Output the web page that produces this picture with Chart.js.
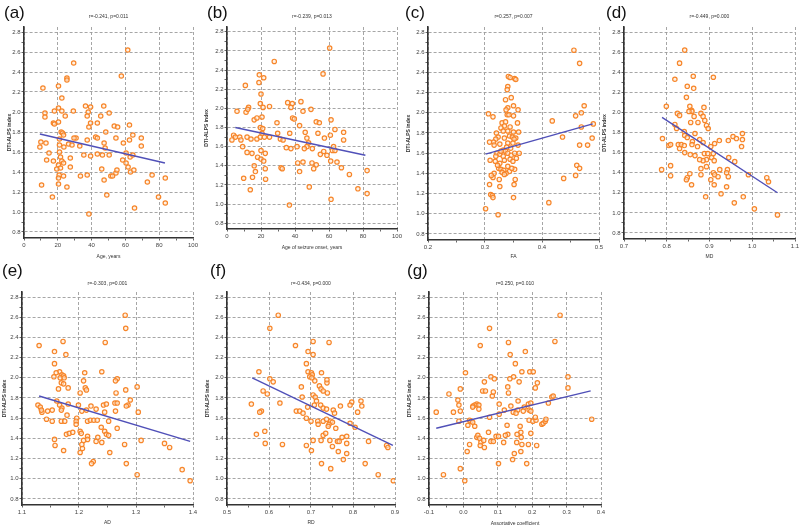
<!DOCTYPE html>
<html><head><meta charset="utf-8">
<script src="https://cdn.jsdelivr.net/npm/chart.js@4.4.1/dist/chart.umd.min.js"></script>
<style>
html,body{margin:0;padding:0;background:#fff;}
body{width:800px;height:528px;position:relative;overflow:hidden;font-family:"Liberation Sans",Arial,sans-serif;}
canvas{position:absolute;}
.plabel{position:absolute;font-size:17px;line-height:17px;color:#111;}
.stat{position:absolute;font-size:5px;line-height:6px;color:#333;white-space:nowrap;transform:translateX(-50%);}
</style></head><body>
<script>
// ---------- DATA ----------
const panelLabels = ['(a)','(b)','(c)','(d)','(e)','(f)','(g)'];
const statTitles = ['r=-0.241, p=0.011','r=-0.239, p=0.013','r=0.257, p=0.007','r=-0.449, p=0.000','r=-0.303, p=0.001','r=-0.434, p=0.000','r=0.250, p=0.010'];
const xTitles = ['Age, years','Age of seizure onset, years','FA','MD','AD','RD','Assortative coefficient'];
const yTitle = 'DTI-ALPS index';
const yTicks = [0.8,1.0,1.2,1.4,1.6,1.8,2.0,2.2,2.4,2.6,2.8];
const xTicksAge = [0,20,40,60,80,100];
const xTicksFA = [0.2,0.3,0.4,0.5];
const xTicksMD = [0.7,0.8,0.9,1.0,1.1];
const xTicksAD = [1.1,1.2,1.3,1.4];
const xTicksRD = [0.5,0.6,0.7,0.8,0.9];
const xTicksAC = [-0.1,0.0,0.1,0.2,0.3,0.4];

const ageData = [[61.4,2.62],[29.4,2.49],[57.6,2.36],[25.4,2.34],[25.4,2.32],[11.2,2.24],[20.4,2.26],[22.4,2.14],[20.4,2.04],[12.4,1.99],[12.4,1.95],[18,2.01],[22.4,2.01],[29.2,2.01],[24.4,1.96],[36.4,2.06],[39.4,2.05],[38,2.0],[37.4,1.96],[47.2,2.06],[50.4,1.99],[45.4,1.96],[17.4,1.89],[18,1.88],[20.4,1.9],[22,1.8],[22.8,1.79],[23.4,1.77],[38.4,1.85],[39.4,1.89],[43.4,1.89],[48.4,1.8],[53.4,1.86],[55.4,1.85],[62.4,1.87],[64.4,1.77],[58.8,1.69],[62.4,1.72],[69.4,1.74],[69.4,1.66],[54.4,1.74],[42.4,1.75],[43.4,1.74],[30.8,1.74],[29.6,1.74],[37.4,1.72],[13,1.69],[10,1.7],[9.4,1.65],[14.8,1.59],[21,1.67],[21,1.6],[26.4,1.68],[28.4,1.67],[33,1.66],[21,1.73],[23.6,1.65],[47.4,1.69],[48,1.64],[46.4,1.57],[50.4,1.57],[43.4,1.58],[35.4,1.57],[39.4,1.56],[21.6,1.55],[27.4,1.54],[22.4,1.51],[23.4,1.49],[13.4,1.52],[17.4,1.51],[20.4,1.47],[21.6,1.44],[19.4,1.43],[27.4,1.45],[23.4,1.36],[20.8,1.37],[20.4,1.34],[33.4,1.36],[37.4,1.37],[46,1.43],[47.4,1.32],[51.4,1.36],[52.4,1.36],[54.4,1.39],[55,1.42],[58.4,1.52],[60.4,1.59],[61.6,1.45],[63,1.4],[65,1.42],[62.8,1.55],[64.4,1.57],[60.4,1.49],[10.4,1.27],[20.4,1.28],[25.4,1.25],[16.8,1.15],[49,1.17],[73,1.3],[75.8,1.37],[79.6,1.15],[83.6,1.09],[83.6,1.34],[65.4,1.04],[38.4,0.98]];
const onsetData = [[60.4,2.63],[27.8,2.49],[56.5,2.36],[19,2.35],[21.6,2.32],[18.8,2.27],[10.8,2.24],[20,2.15],[21.2,2.01],[19.6,2.05],[25,2.02],[5.9,1.97],[11.2,1.96],[12.7,2.01],[12.2,1.99],[35.7,2.06],[43.5,2.07],[38.4,2.05],[37.6,2.01],[44.7,1.97],[38.6,1.9],[39.6,1.89],[49.4,1.99],[16,1.88],[17.6,1.9],[20.6,1.91],[29.4,1.85],[52.5,1.86],[54.3,1.85],[61.2,1.88],[42.7,1.82],[63.5,1.78],[36.9,1.74],[29.8,1.74],[31.4,1.68],[47,1.69],[46,1.75],[53.5,1.74],[60.8,1.72],[68.6,1.75],[68.6,1.67],[57.3,1.69],[3.9,1.72],[4.9,1.7],[7.5,1.7],[11.8,1.7],[2.9,1.67],[9.2,1.6],[8.2,1.67],[14.1,1.68],[17.6,1.68],[19.6,1.7],[20.6,1.74],[22,1.7],[25,1.7],[19.6,1.8],[21,1.79],[33,1.67],[48,1.64],[47,1.6],[41.2,1.6],[37.6,1.58],[45.5,1.58],[50.2,1.58],[34.9,1.59],[62.7,1.6],[62,1.56],[63.5,1.56],[54.9,1.52],[56.9,1.55],[58.8,1.51],[11.8,1.54],[14.7,1.53],[22.5,1.53],[20,1.56],[18,1.49],[20,1.47],[21.6,1.45],[22.5,1.37],[16,1.4],[61,1.45],[64.7,1.44],[50,1.43],[44.7,1.44],[41.6,1.43],[31.8,1.38],[32.5,1.37],[52.5,1.41],[51,1.37],[67.3,1.38],[72,1.31],[82.4,1.35],[42.7,1.34],[16.7,1.34],[9.8,1.27],[15,1.28],[22.7,1.26],[13.7,1.15],[48.4,1.18],[77,1.16],[82.4,1.11],[61.2,1.05],[36.7,0.99]];
const faData = [[0.341,2.36],[0.344,2.35],[0.352,2.34],[0.354,2.33],[0.340,2.26],[0.339,2.23],[0.346,2.15],[0.336,2.13],[0.350,2.07],[0.340,2.05],[0.358,2.03],[0.306,1.99],[0.314,1.96],[0.337,2.03],[0.339,1.98],[0.342,1.98],[0.350,1.97],[0.357,1.9],[0.330,1.9],[0.336,1.91],[0.334,1.87],[0.328,1.85],[0.344,1.86],[0.320,1.8],[0.332,1.82],[0.340,1.82],[0.350,1.81],[0.359,1.81],[0.323,1.76],[0.319,1.74],[0.334,1.75],[0.343,1.77],[0.348,1.76],[0.354,1.75],[0.351,1.74],[0.315,1.71],[0.308,1.71],[0.316,1.68],[0.326,1.69],[0.340,1.7],[0.349,1.7],[0.358,1.68],[0.332,1.63],[0.321,1.6],[0.326,1.59],[0.336,1.62],[0.340,1.6],[0.346,1.58],[0.352,1.6],[0.332,1.57],[0.319,1.57],[0.309,1.53],[0.326,1.5],[0.334,1.53],[0.344,1.54],[0.349,1.52],[0.324,1.45],[0.328,1.44],[0.333,1.43],[0.330,1.41],[0.340,1.47],[0.343,1.42],[0.352,1.44],[0.316,1.4],[0.314,1.36],[0.311,1.38],[0.337,1.4],[0.334,1.39],[0.353,1.34],[0.351,1.29],[0.325,1.34],[0.326,1.27],[0.308,1.29],[0.310,1.19],[0.313,1.18],[0.314,1.16],[0.350,1.16],[0.301,1.05],[0.323,0.99],[0.345,1.65],[0.328,1.62],[0.355,1.55],[0.322,1.48],[0.338,1.66],[0.347,1.45],[0.318,1.52],[0.360,1.6],[0.456,2.62],[0.466,2.49],[0.474,2.07],[0.469,2.0],[0.459,1.97],[0.418,1.92],[0.469,1.86],[0.490,1.89],[0.488,1.75],[0.436,1.76],[0.466,1.68],[0.480,1.68],[0.461,1.48],[0.466,1.45],[0.459,1.38],[0.438,1.35],[0.412,1.11]];
const mdData = [[0.842,2.62],[0.830,2.49],[0.819,2.33],[0.862,2.36],[0.909,2.35],[0.848,2.26],[0.863,2.24],[0.846,2.15],[0.799,2.06],[0.854,2.06],[0.858,2.02],[0.859,2.01],[0.852,2.01],[0.825,1.99],[0.830,1.97],[0.887,2.05],[0.864,1.96],[0.880,1.99],[0.885,1.96],[0.889,1.92],[0.856,1.9],[0.873,1.9],[0.893,1.87],[0.897,1.84],[0.819,1.88],[0.823,1.84],[0.841,1.81],[0.866,1.79],[0.790,1.74],[0.842,1.77],[0.848,1.75],[0.877,1.73],[0.860,1.71],[0.885,1.7],[0.827,1.68],[0.834,1.68],[0.830,1.64],[0.841,1.67],[0.805,1.67],[0.809,1.68],[0.859,1.68],[0.872,1.66],[0.912,1.69],[0.923,1.72],[0.903,1.66],[0.944,1.72],[0.955,1.76],[0.963,1.74],[0.977,1.79],[0.977,1.73],[0.975,1.66],[0.842,1.6],[0.855,1.58],[0.866,1.57],[0.888,1.59],[0.896,1.59],[0.909,1.59],[0.905,1.55],[0.911,1.52],[0.893,1.53],[0.885,1.52],[0.877,1.53],[0.945,1.55],[0.959,1.51],[0.809,1.47],[0.788,1.43],[0.809,1.37],[0.854,1.39],[0.848,1.35],[0.846,1.33],[0.880,1.44],[0.893,1.46],[0.880,1.38],[0.903,1.33],[0.909,1.4],[0.912,1.38],[0.920,1.36],[0.924,1.43],[0.942,1.43],[0.940,1.4],[0.944,1.36],[0.858,1.28],[0.911,1.28],[0.940,1.26],[0.927,1.19],[0.991,1.38],[1.034,1.35],[1.038,1.31],[0.891,1.16],[0.958,1.1],[0.979,1.16],[1.005,1.04],[1.059,0.98]];
const adData = [[1.281,2.62],[1.282,2.49],[1.130,2.32],[1.172,2.36],[1.246,2.35],[1.157,2.26],[1.177,2.23],[1.157,2.14],[1.166,2.06],[1.160,2.05],[1.240,2.06],[1.170,2.03],[1.173,2.02],[1.156,2.01],[1.167,2.0],[1.174,2.0],[1.210,2.05],[1.208,1.97],[1.267,1.99],[1.264,1.97],[1.302,1.91],[1.169,1.95],[1.173,1.94],[1.164,1.89],[1.181,1.9],[1.211,1.9],[1.213,1.88],[1.202,1.85],[1.265,1.85],[1.282,1.88],[1.290,1.78],[1.286,1.73],[1.283,1.72],[1.128,1.73],[1.132,1.71],[1.135,1.66],[1.134,1.68],[1.145,1.67],[1.153,1.68],[1.161,1.77],[1.166,1.73],[1.170,1.7],[1.169,1.68],[1.181,1.74],[1.199,1.73],[1.205,1.67],[1.213,1.68],[1.221,1.72],[1.230,1.69],[1.243,1.73],[1.248,1.74],[1.263,1.75],[1.267,1.75],[1.264,1.67],[1.245,1.66],[1.143,1.59],[1.153,1.57],[1.169,1.57],[1.175,1.57],[1.179,1.63],[1.196,1.6],[1.215,1.57],[1.220,1.58],[1.226,1.58],[1.232,1.58],[1.252,1.57],[1.195,1.57],[1.195,1.54],[1.239,1.51],[1.267,1.5],[1.202,1.47],[1.204,1.45],[1.178,1.44],[1.183,1.45],[1.189,1.46],[1.245,1.47],[1.248,1.44],[1.252,1.43],[1.233,1.41],[1.215,1.42],[1.215,1.39],[1.240,1.36],[1.230,1.37],[1.208,1.38],[1.157,1.39],[1.158,1.33],[1.173,1.28],[1.206,1.3],[1.202,1.26],[1.205,1.34],[1.254,1.26],[1.280,1.34],[1.309,1.38],[1.350,1.35],[1.359,1.31],[1.283,1.15],[1.225,1.17],[1.222,1.15],[1.302,1.04],[1.381,1.09],[1.395,0.98],[1.304,1.66]];
const rdData = [[0.622,2.62],[0.602,2.49],[0.663,2.32],[0.705,2.36],[0.743,2.35],[0.693,2.26],[0.705,2.23],[0.689,2.14],[0.693,2.06],[0.701,2.05],[0.703,2.03],[0.725,2.05],[0.709,1.97],[0.697,2.01],[0.702,2.0],[0.576,2.06],[0.602,1.99],[0.610,1.96],[0.677,1.91],[0.720,1.92],[0.724,1.89],[0.738,1.95],[0.738,1.98],[0.729,1.87],[0.739,1.85],[0.586,1.87],[0.596,1.84],[0.705,1.83],[0.710,1.81],[0.713,1.77],[0.708,1.73],[0.679,1.81],[0.558,1.74],[0.626,1.75],[0.723,1.73],[0.729,1.7],[0.737,1.69],[0.753,1.68],[0.756,1.65],[0.770,1.72],[0.797,1.76],[0.793,1.73],[0.819,1.77],[0.821,1.72],[0.811,1.66],[0.665,1.67],[0.673,1.67],[0.681,1.65],[0.692,1.71],[0.582,1.67],[0.578,1.66],[0.689,1.6],[0.700,1.57],[0.716,1.57],[0.717,1.54],[0.729,1.57],[0.737,1.59],[0.747,1.57],[0.751,1.56],[0.743,1.54],[0.741,1.52],[0.759,1.5],[0.793,1.55],[0.805,1.51],[0.570,1.44],[0.590,1.47],[0.591,1.35],[0.632,1.34],[0.689,1.33],[0.705,1.38],[0.724,1.38],[0.729,1.43],[0.735,1.45],[0.745,1.38],[0.751,1.32],[0.763,1.37],[0.767,1.37],[0.774,1.41],[0.785,1.42],[0.785,1.35],[0.765,1.27],[0.785,1.25],[0.777,1.19],[0.725,1.15],[0.747,1.1],[0.701,1.28],[0.829,1.15],[0.837,1.37],[0.860,1.04],[0.880,1.33],[0.883,1.31],[0.896,0.98]];
const acData = [[0.281,2.62],[0.076,2.49],[0.266,2.36],[0.049,2.32],[0.131,2.35],[0.136,2.23],[0.180,2.26],[0.151,2.14],[0.006,2.05],[0.193,2.06],[0.203,2.06],[0.170,2.06],[0.304,2.01],[0.080,2.01],[0.090,1.99],[0.146,2.01],[0.135,1.99],[0.215,1.95],[0.162,1.96],[0.061,1.96],[-0.009,1.89],[0.129,1.91],[0.209,1.9],[0.304,1.9],[0.056,1.87],[0.064,1.87],[-0.042,1.84],[0.131,1.85],[0.084,1.82],[0.087,1.86],[-0.016,1.78],[0.159,1.77],[0.257,1.81],[0.261,1.82],[0.104,1.74],[0.039,1.74],[0.045,1.73],[0.033,1.73],[0.028,1.72],[-0.013,1.73],[0.138,1.72],[0.189,1.74],[0.196,1.75],[0.177,1.71],[0.027,1.71],[0.045,1.69],[0.119,1.68],[0.158,1.68],[0.174,1.67],[0.191,1.68],[0.196,1.67],[0.247,1.75],[-0.079,1.66],[-0.029,1.66],[-0.009,1.67],[0.145,1.66],[0.153,1.65],[0.076,1.61],[0.104,1.64],[-0.013,1.57],[0.018,1.58],[0.022,1.57],[0.027,1.56],[0.013,1.53],[0.033,1.52],[0.191,1.58],[0.202,1.57],[0.211,1.58],[0.209,1.61],[0.228,1.54],[0.232,1.55],[0.238,1.57],[0.240,1.59],[0.373,1.59],[0.127,1.53],[0.165,1.52],[0.196,1.45],[0.167,1.46],[0.156,1.44],[0.129,1.44],[0.073,1.46],[0.039,1.41],[0.042,1.43],[0.095,1.42],[0.102,1.42],[0.122,1.43],[0.168,1.41],[0.047,1.4],[0.051,1.36],[0.059,1.38],[0.049,1.33],[0.061,1.31],[0.018,1.34],[0.080,1.37],[0.087,1.37],[0.117,1.36],[0.155,1.36],[0.170,1.34],[0.189,1.34],[0.213,1.33],[0.011,1.27],[0.148,1.25],[0.167,1.27],[0.143,1.19],[0.184,1.15],[0.102,1.15],[-0.009,1.1],[-0.058,1.04],[0.004,0.98]];

// regression line end points
const ageLine = [[9.4,1.78],[83.4,1.49]];
const onsetLine = [[4.9,1.80],[81.4,1.51]];
const faLine = [[0.301,1.59],[0.489,1.89]];
const mdLine = [[0.789,1.95],[1.059,1.20]];
const adLine = [[1.130,1.82],[1.395,1.37]];
const rdLine = [[0.560,2.00],[0.895,1.33]];
const acLine = [[-0.079,1.50],[0.370,1.87]];

// ---------- LAYOUT ----------
const Y_MIN = 0.74, Y_MAX = 2.85;
const panels = [
  {data:ageData,  line:ageLine,  xt:xTicksAge, dec:0, L:24,  R:193, T:27,  B:238, yT:10,  xT:257, sY:16,  lx:4,   ly:4},
  {data:onsetData,line:onsetLine,xt:xTicksAge, dec:0, L:227, R:397, T:27,  B:229, yT:207, xT:248, sY:16,  lx:207, ly:4},
  {data:faData,   line:faLine,   xt:xTicksFA,  dec:1, L:428, R:599, T:27,  B:240, yT:409, xT:257, sY:16,  lx:405, ly:4},
  {data:mdData,   line:mdLine,   xt:xTicksMD,  dec:1, L:624, R:795, T:27,  B:239, yT:605, xT:257, sY:16,  lx:606, ly:4},
  {data:adData,   line:adLine,   xt:xTicksAD,  dec:1, L:22,  R:193, T:292, B:505, yT:5,   xT:523, sY:283, lx:2,   ly:262},
  {data:rdData,   line:rdLine,   xt:xTicksRD,  dec:1, L:227, R:395, T:292, B:505, yT:208, xT:523, sY:283, lx:210, ly:262},
  {data:acData,   line:acLine,   xt:xTicksAC,  dec:1, L:429, R:601, T:292, B:505, yT:410, xT:524, sY:283, lx:407, ly:262}
];

const FAM = '"Liberation Sans", Arial, sans-serif';
function withMinor(arr){
  const out=[];
  for(let i=0;i<arr.length;i++){ out.push({v:arr[i],major:true}); if(i<arr.length-1) out.push({v:(arr[i]+arr[i+1])/2,major:false}); }
  return out;
}
function isMajor(list,v){ return list.some(t=>Math.abs(t-v)<1e-9); }

panels.forEach((p,i)=>{
  const padL=30,padT=8,padR=12,padB=30;
  const cl=p.L-padL, ct=p.T-padT, w=p.R-p.L+padL+padR, h=p.B-p.T+padT+padB;
  const cv=document.createElement('canvas');
  cv.width=w; cv.height=h;
  cv.style.left=cl+'px'; cv.style.top=ct+'px'; cv.style.width=w+'px'; cv.style.height=h+'px';
  document.body.appendChild(cv);

  const lbl=document.createElement('div'); lbl.className='plabel'; lbl.textContent=panelLabels[i];
  lbl.style.left=p.lx+'px'; lbl.style.top=p.ly+'px'; document.body.appendChild(lbl);
  const st=document.createElement('div'); st.className='stat'; st.textContent=statTitles[i];
  st.style.left=((p.L+p.R)/2)+'px'; st.style.top=(p.sY-3)+'px'; document.body.appendChild(st);

  const tf=5, lh=tf*1.2;
  const xs=withMinor(p.xt), ys=withMinor(yTicks);
  const gridCommon = (list)=>({
    color: c => (c.tick && isMajor(list,c.tick.value)) ? '#9c9c9c' : 'rgba(0,0,0,0)',
    tickColor:'#555', tickLength:2.5, lineWidth:0.9, tickWidth:0.9, tickBorderDash:[]
  });
  new Chart(cv,{
    type:'scatter',
    data:{datasets:[
      {type:'line', data:p.line.map(([x,y])=>({x,y})), borderColor:'#5050b8', borderWidth:1.4, pointRadius:0, fill:false, showLine:true, order:0},
      {data:p.data.map(([x,y])=>({x,y})), pointRadius:2.2, borderWidth:1.2, borderColor:'#f7862a', backgroundColor:'rgba(255,232,210,0.6)', order:1}
    ]},
    options:{
      responsive:false, animation:false, devicePixelRatio:1,
      layout:{padding:{left:0,top:padT,right:padR,bottom:0}},
      plugins:{legend:{display:false},tooltip:{enabled:false},title:{display:false}},
      scales:{
        x:{type:'linear', min:p.xt[0], max:p.xt[p.xt.length-1],
          afterBuildTicks:s=>{ s.ticks=xs.map(t=>({value:t.v})); },
          afterFit:s=>{ s.height=padB; },
          ticks:{autoSkip:false,maxRotation:0,minRotation:0,padding:1,color:'#444',font:{family:FAM,size:6},
            callback:v=>isMajor(p.xt,v)?Number(v).toFixed(p.dec):''},
          grid:gridCommon(p.xt),
          border:{display:true,color:'#333',width:1.6,dash:[3,2]},
          title:{display:true,text:xTitles[i],color:'#333',font:{family:FAM,size:tf},
            padding:{top:0,bottom:h-(p.xT-ct)-lh/2}}
        },
        y:{type:'linear', position:'left', min:Y_MIN, max:Y_MAX,
          afterBuildTicks:s=>{ s.ticks=ys.map(t=>({value:t.v})); },
          afterFit:s=>{ s.width=padL; },
          ticks:{autoSkip:false,padding:1,color:'#444',font:{family:FAM,size:6},
            callback:v=>isMajor(yTicks,v)?Number(v).toFixed(1):''},
          grid:gridCommon(yTicks),
          border:{display:true,color:'#333',width:1.6,dash:[3,2]},
          title:{display:true,text:yTitle,color:'#333',font:{family:FAM,size:tf,weight:'bold'},
            padding:{top:(p.yT-cl)-lh/2,bottom:0}}
        }
      }
    }
  });
});
</script>
</body></html>
